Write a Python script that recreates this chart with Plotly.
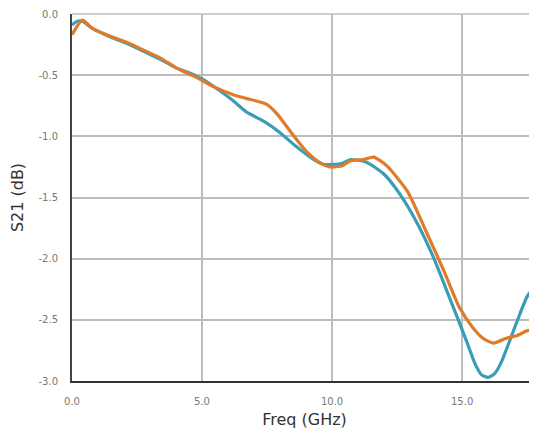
import plotly.graph_objects as go

teal_x = [0, 0.2, 0.4, 0.8, 1.5, 2.1, 2.9, 3.4, 4.0, 4.5, 5.0, 5.7, 6.2, 6.7, 7.4, 8.0, 8.6, 9.3, 9.7, 10.0,
          10.4, 10.7, 11.3, 12.0, 12.6, 13.3, 13.9, 14.5, 15.2, 15.5, 15.75, 16.0, 16.25, 16.5, 17.1,
          17.5, 17.9]
teal_y = [-0.09, -0.06, -0.06, -0.12, -0.19, -0.24, -0.32, -0.37, -0.44, -0.48, -0.53, -0.63, -0.71, -0.80,
          -0.88, -0.97, -1.08, -1.19, -1.23, -1.23, -1.22, -1.19, -1.21, -1.31, -1.47, -1.72, -1.99, -2.31,
          -2.69, -2.86, -2.95, -2.97, -2.94, -2.85, -2.52, -2.31, -2.20]

orange_x = [0, 0.4, 0.8, 1.45, 2.1, 2.9, 3.4, 4.0, 4.8, 5.4, 6.2, 6.7, 7.5, 7.9, 8.5, 9.0, 9.5, 9.9, 10.4,
            10.7, 11.2, 11.6, 12.1, 12.9, 13.6, 14.3, 14.9, 15.4, 15.8, 16.2, 16.7, 17.1, 17.5, 17.9]
orange_y = [-0.17, -0.05, -0.12, -0.18, -0.23, -0.31, -0.36, -0.44, -0.52, -0.59, -0.66, -0.69, -0.74, -0.82,
            -0.99, -1.12, -1.21, -1.25, -1.24, -1.20, -1.19, -1.17, -1.24, -1.45, -1.77, -2.10, -2.40, -2.56,
            -2.65, -2.69, -2.65, -2.63, -2.59, -2.57]

x_ticks = [0, 5, 10, 15]
x_tick_labels = ["0.0", "5.0", "10.0", "15.0"]
y_ticks = [0, -0.5, -1.0, -1.5, -2.0, -2.5, -3.0]
y_tick_labels = ["0.0", "-0.5", "-1.0", "-1.5", "-2.0", "-2.5", "-3.0"]

fig = go.Figure()
fig.add_trace(go.Scatter(x=teal_x, y=teal_y, mode="lines",
                         line=dict(color="#3a9db5", width=3.2, shape="spline", smoothing=0.6),
                         showlegend=False))
fig.add_trace(go.Scatter(x=orange_x, y=orange_y, mode="lines",
                         line=dict(color="#e07b2a", width=3.2, shape="spline", smoothing=0.6),
                         showlegend=False))

# top border line (gridline at 0.0)
fig.add_shape(type="line", xref="paper", yref="paper", x0=0, x1=1, y0=1, y1=1,
              line=dict(color="#bdbdbd", width=1.5), layer="below")

fig.update_layout(
    width=529, height=424,
    margin=dict(l=64, r=0, t=4, b=51),
    paper_bgcolor="white", plot_bgcolor="white",
    font=dict(family="DejaVu Sans", color="#333"),
    xaxis=dict(range=[0, 17.88], tickvals=x_ticks, ticktext=x_tick_labels,
               showgrid=True, gridcolor="#bdbdbd", gridwidth=1.5,
               showline=True, linecolor="#333", linewidth=2, zeroline=False,
               ticks="", ticklabelstandoff=10, ticklabeloverflow="allow",
               tickfont=dict(size=10, color="#777", family="DejaVu Sans"),
               title=dict(text="Freq (GHz)", font=dict(size=16, color="#333", family="DejaVu Sans"),
                          standoff=8)),
    yaxis=dict(range=[-3.0, 0.0], tickvals=y_ticks, ticktext=y_tick_labels,
               showgrid=True, gridcolor="#bdbdbd", gridwidth=1.5,
               showline=True, linecolor="#444", linewidth=2, zeroline=False,
               ticks="", ticklabelstandoff=10, ticklabeloverflow="allow",
               tickfont=dict(size=10, color="#777", family="DejaVu Sans"),
               title=dict(text="S21 (dB)", font=dict(size=16, color="#333", family="DejaVu Sans"),
                          standoff=12)),
)

fig.write_html("out.html")
